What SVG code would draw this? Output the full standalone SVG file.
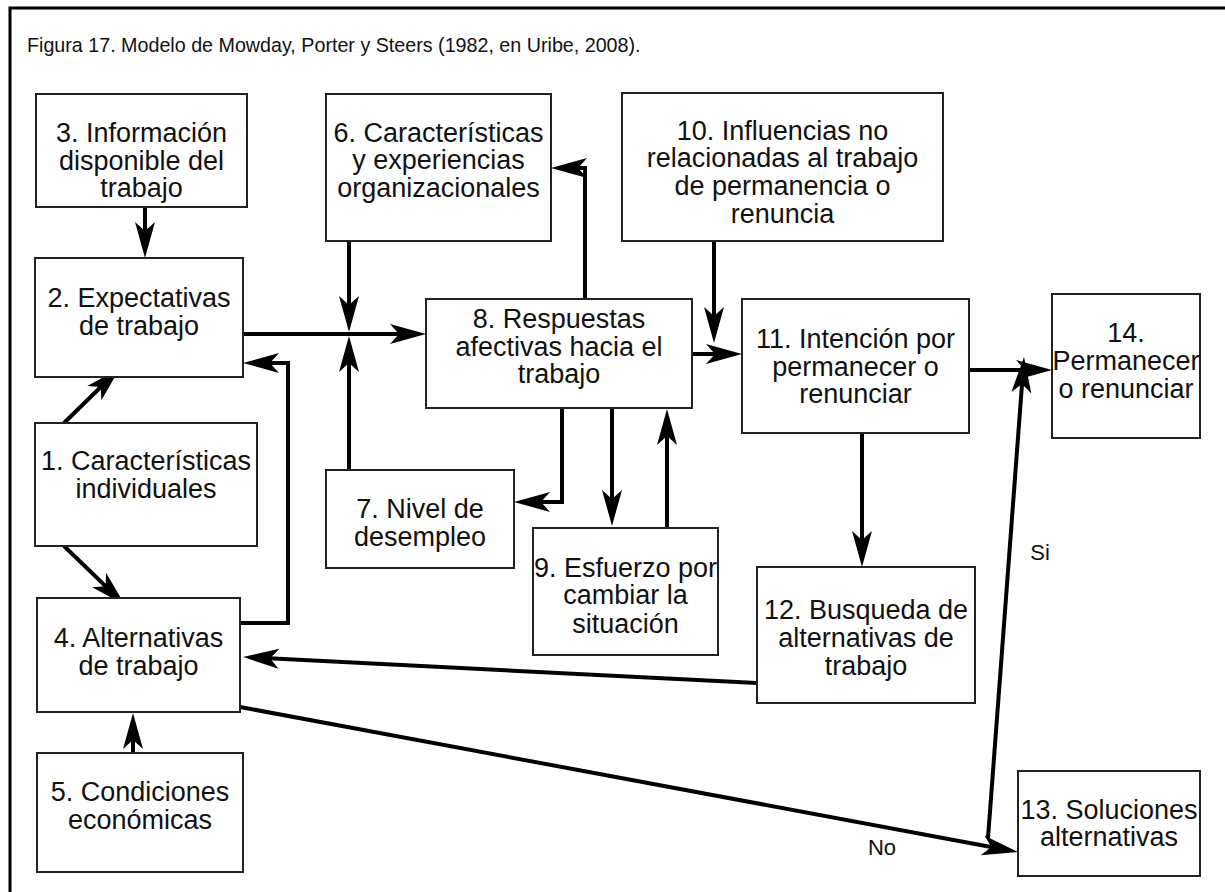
<svg xmlns="http://www.w3.org/2000/svg" width="1225" height="892" viewBox="0 0 1225 892">
  <style>
    .box { fill: #ffffff; stroke: #222222; stroke-width: 2; }
    .lbl { font-family: "Liberation Sans", Arial, sans-serif; font-size: 27px; fill: #111111; text-anchor: middle; }
    .edge { fill: none; stroke: #000000; stroke-width: 4; marker-end: url(#arrow); }
    .elbl { font-family: "Liberation Sans", Arial, sans-serif; font-size: 22px; fill: #111111; text-anchor: middle; }
    .title { font-family: "Liberation Sans", Arial, sans-serif; font-size: 19.7px; fill: #111111; }
  </style>
  <defs>
    <marker id="arrow" markerUnits="userSpaceOnUse" markerWidth="40" markerHeight="24" refX="10" refY="10" orient="auto" overflow="visible">
      <path d="M0,0 L36,10 L0,20 L9,10 Z" fill="#000000"/>
    </marker>
  </defs>

  <rect x="0" y="0" width="1225" height="892" fill="#ffffff"/>
  <!-- outer frame (top and left edges) -->
  <path d="M10,892 L10,8 L1225,8" fill="none" stroke="#000000" stroke-width="3"/>

  <text class="title" x="27" y="52">Figura 17. Modelo de Mowday, Porter y Steers (1982, en Uribe, 2008).</text>

  <!-- connectors -->
  <g id="connectors">
    <path class="edge" d="M145,207 L145,232"/>
    <path class="edge" d="M243,334 L400,334"/>
    <path class="edge" d="M349,241 L349,306"/>
    <path class="edge" d="M349,470 L349,362"/>
    <path class="edge" d="M240,623 L288,623 L288,363 L269,363"/>
    <path class="edge" d="M64,423 L101.5,386.2"/>
    <path class="edge" d="M64,546 L106.3,586.9"/>
    <path class="edge" d="M133,753 L133,739"/>
    <path class="edge" d="M585,299 L585,168 L577,168"/>
    <path class="edge" d="M562,408 L562,502 L540,502"/>
    <path class="edge" d="M612,408 L612,500"/>
    <path class="edge" d="M667,528 L667,435"/>
    <path class="edge" d="M714,241 L714,317"/>
    <path class="edge" d="M692,354 L716,354"/>
    <path class="edge" d="M969,370 L1026,370"/>
    <path class="edge" d="M862,433 L862,541"/>
    <path class="edge" d="M757,683 L269,658.3"/>
    <path class="edge" d="M240,707 L992.4,847.2"/>
    <path class="edge" d="M988,838 L1022.1,382.9"/>
    <text class="elbl" x="1040" y="560">Si</text>
    <text class="elbl" x="882" y="855">No</text>
  </g>

  <g id="n3">
    <rect class="box" x="36" y="94" width="211" height="113"/>
    <text class="lbl" x="141.5" y="142">3. Información</text>
    <text class="lbl" x="141.5" y="170">disponible del</text>
    <text class="lbl" x="141.5" y="197">trabajo</text>
  </g>
  <g id="n6">
    <rect class="box" x="326" y="94" width="225" height="147"/>
    <text class="lbl" x="438.5" y="142">6. Características</text>
    <text class="lbl" x="438.5" y="169">y experiencias</text>
    <text class="lbl" x="438.5" y="197">organizacionales</text>
  </g>
  <g id="n10">
    <rect class="box" x="622" y="93" width="321" height="148"/>
    <text class="lbl" x="782.5" y="140">10. Influencias no</text>
    <text class="lbl" x="782.5" y="167">relacionadas al trabajo</text>
    <text class="lbl" x="782.5" y="195">de permanencia o</text>
    <text class="lbl" x="782.5" y="223">renuncia</text>
  </g>
  <g id="n2">
    <rect class="box" x="35" y="258" width="208" height="119"/>
    <text class="lbl" x="139" y="307">2. Expectativas</text>
    <text class="lbl" x="139" y="335">de trabajo</text>
  </g>
  <g id="n8">
    <rect class="box" x="426" y="299" width="266" height="109"/>
    <text class="lbl" x="559" y="328">8. Respuestas</text>
    <text class="lbl" x="559" y="356">afectivas hacia el</text>
    <text class="lbl" x="559" y="383">trabajo</text>
  </g>
  <g id="n11">
    <rect class="box" x="742" y="299" width="227" height="134"/>
    <text class="lbl" x="855.5" y="348">11. Intención por</text>
    <text class="lbl" x="855.5" y="376">permanecer o</text>
    <text class="lbl" x="855.5" y="403">renunciar</text>
  </g>
  <g id="n14">
    <rect class="box" x="1052" y="294" width="148" height="144"/>
    <text class="lbl" x="1126" y="342">14.</text>
    <text class="lbl" x="1126" y="370">Permanecer</text>
    <text class="lbl" x="1126" y="398">o renunciar</text>
  </g>
  <g id="n1">
    <rect class="box" x="35" y="423" width="222" height="123"/>
    <text class="lbl" x="146" y="470">1. Características</text>
    <text class="lbl" x="146" y="498">individuales</text>
  </g>
  <g id="n7">
    <rect class="box" x="326" y="470" width="188" height="98"/>
    <text class="lbl" x="420" y="518">7. Nivel de</text>
    <text class="lbl" x="420" y="546">desempleo</text>
  </g>
  <g id="n9">
    <rect class="box" x="533" y="528" width="185" height="127"/>
    <text class="lbl" x="625.5" y="577">9. Esfuerzo por</text>
    <text class="lbl" x="625.5" y="604">cambiar la</text>
    <text class="lbl" x="625.5" y="633">situación</text>
  </g>
  <g id="n12">
    <rect class="box" x="757" y="567" width="218" height="136"/>
    <text class="lbl" x="866" y="619">12. Busqueda de</text>
    <text class="lbl" x="866" y="647">alternativas de</text>
    <text class="lbl" x="866" y="675">trabajo</text>
  </g>
  <g id="n4">
    <rect class="box" x="37" y="598" width="203" height="114"/>
    <text class="lbl" x="138.5" y="647">4. Alternativas</text>
    <text class="lbl" x="138.5" y="675">de trabajo</text>
  </g>
  <g id="n5">
    <rect class="box" x="37" y="753" width="206" height="119"/>
    <text class="lbl" x="140" y="801">5. Condiciones</text>
    <text class="lbl" x="140" y="829">económicas</text>
  </g>
  <g id="n13">
    <rect class="box" x="1018" y="771" width="182" height="105"/>
    <text class="lbl" x="1109" y="819">13. Soluciones</text>
    <text class="lbl" x="1109" y="846">alternativas</text>
  </g>
</svg>
